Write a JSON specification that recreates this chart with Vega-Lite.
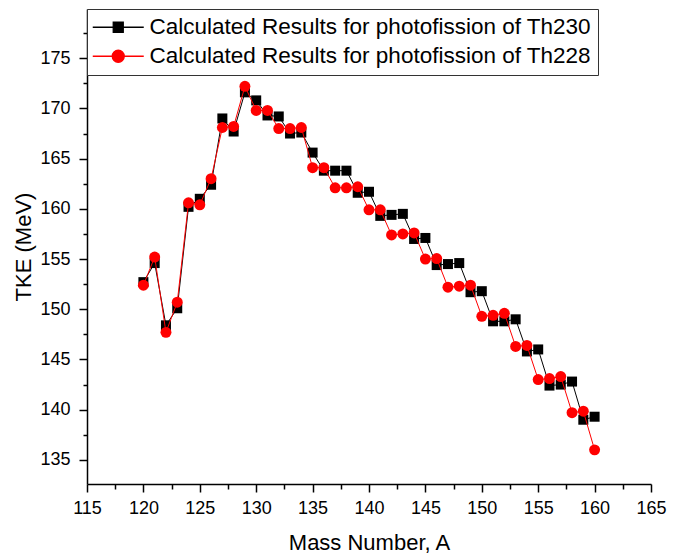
{
  "$schema": "https://vega.github.io/schema/vega-lite/v6.json",
  "autosize": {"type": "none"},
  "padding": {"left": 87, "top": 9, "right": 33, "bottom": 70},
  "width": 564,
  "height": 475,
  "background": "white",
  "config": {
    "view": {"stroke": null},
    "font": "Liberation Sans",
    "axis": {"grid": false, "domainColor": "black", "domainWidth": 1.5, "tickColor": "black", "tickWidth": 1.5, "labelColor": "black", "titleColor": "black", "labelFont": "Liberation Sans", "titleFont": "Liberation Sans", "titleFontWeight": "normal", "labelFontSize": 18, "titleFontSize": 22, "labelOverlap": false, "labelFlush": false}
  },
  "data": {"values": [
    {"A":120,"TKE":152.7,"s":"Th230"},{"A":121,"TKE":154.6,"s":"Th230"},{"A":122,"TKE":148.4,"s":"Th230"},{"A":123,"TKE":150.1,"s":"Th230"},{"A":124,"TKE":160.2,"s":"Th230"},{"A":125,"TKE":161.0,"s":"Th230"},{"A":126,"TKE":162.4,"s":"Th230"},{"A":127,"TKE":169.0,"s":"Th230"},{"A":128,"TKE":167.7,"s":"Th230"},{"A":129,"TKE":171.6,"s":"Th230"},{"A":130,"TKE":170.8,"s":"Th230"},{"A":131,"TKE":169.3,"s":"Th230"},{"A":132,"TKE":169.2,"s":"Th230"},{"A":133,"TKE":167.5,"s":"Th230"},{"A":134,"TKE":167.6,"s":"Th230"},{"A":135,"TKE":165.6,"s":"Th230"},{"A":136,"TKE":163.8,"s":"Th230"},{"A":137,"TKE":163.8,"s":"Th230"},{"A":138,"TKE":163.8,"s":"Th230"},{"A":139,"TKE":161.6,"s":"Th230"},{"A":140,"TKE":161.7,"s":"Th230"},{"A":141,"TKE":159.3,"s":"Th230"},{"A":142,"TKE":159.4,"s":"Th230"},{"A":143,"TKE":159.5,"s":"Th230"},{"A":144,"TKE":157.0,"s":"Th230"},{"A":145,"TKE":157.1,"s":"Th230"},{"A":146,"TKE":154.4,"s":"Th230"},{"A":147,"TKE":154.5,"s":"Th230"},{"A":148,"TKE":154.6,"s":"Th230"},{"A":149,"TKE":151.7,"s":"Th230"},{"A":150,"TKE":151.8,"s":"Th230"},{"A":151,"TKE":148.8,"s":"Th230"},{"A":152,"TKE":148.8,"s":"Th230"},{"A":153,"TKE":149.0,"s":"Th230"},{"A":154,"TKE":145.8,"s":"Th230"},{"A":155,"TKE":146.0,"s":"Th230"},{"A":156,"TKE":142.4,"s":"Th230"},{"A":157,"TKE":142.5,"s":"Th230"},{"A":158,"TKE":142.8,"s":"Th230"},{"A":159,"TKE":139.0,"s":"Th230"},{"A":160,"TKE":139.3,"s":"Th230"},
    {"A":120,"TKE":152.4,"s":"Th228"},{"A":121,"TKE":155.2,"s":"Th228"},{"A":122,"TKE":147.7,"s":"Th228"},{"A":123,"TKE":150.7,"s":"Th228"},{"A":124,"TKE":160.6,"s":"Th228"},{"A":125,"TKE":160.4,"s":"Th228"},{"A":126,"TKE":163.0,"s":"Th228"},{"A":127,"TKE":168.1,"s":"Th228"},{"A":128,"TKE":168.2,"s":"Th228"},{"A":129,"TKE":172.2,"s":"Th228"},{"A":130,"TKE":169.8,"s":"Th228"},{"A":131,"TKE":169.8,"s":"Th228"},{"A":132,"TKE":168.0,"s":"Th228"},{"A":133,"TKE":168.0,"s":"Th228"},{"A":134,"TKE":168.1,"s":"Th228"},{"A":135,"TKE":164.1,"s":"Th228"},{"A":136,"TKE":164.1,"s":"Th228"},{"A":137,"TKE":162.1,"s":"Th228"},{"A":138,"TKE":162.1,"s":"Th228"},{"A":139,"TKE":162.2,"s":"Th228"},{"A":140,"TKE":159.9,"s":"Th228"},{"A":141,"TKE":159.9,"s":"Th228"},{"A":142,"TKE":157.4,"s":"Th228"},{"A":143,"TKE":157.5,"s":"Th228"},{"A":144,"TKE":157.6,"s":"Th228"},{"A":145,"TKE":155.0,"s":"Th228"},{"A":146,"TKE":155.05,"s":"Th228"},{"A":147,"TKE":152.2,"s":"Th228"},{"A":148,"TKE":152.3,"s":"Th228"},{"A":149,"TKE":152.4,"s":"Th228"},{"A":150,"TKE":149.3,"s":"Th228"},{"A":151,"TKE":149.4,"s":"Th228"},{"A":152,"TKE":149.6,"s":"Th228"},{"A":153,"TKE":146.3,"s":"Th228"},{"A":154,"TKE":146.4,"s":"Th228"},{"A":155,"TKE":143.0,"s":"Th228"},{"A":156,"TKE":143.1,"s":"Th228"},{"A":157,"TKE":143.3,"s":"Th228"},{"A":158,"TKE":139.7,"s":"Th228"},{"A":159,"TKE":139.85,"s":"Th228"},{"A":160,"TKE":136.0,"s":"Th228"}
  ]},
  "encoding": {
    "x": {"field": "A", "type": "quantitative", "title": "Mass Number, A",
      "scale": {"domain": [115, 165], "nice": false, "zero": false},
      "axis": {"values": [115,117.5,120,122.5,125,127.5,130,132.5,135,137.5,140,142.5,145,147.5,150,152.5,155,157.5,160,162.5,165],
        "labelExpr": "datum.value % 5 === 0 ? datum.label : ''",
        "tickSize": {"condition": {"test": "datum.value % 5 === 0", "value": 8}, "value": 5},
        "labelPadding": 7, "titlePadding": 15}},
    "y": {"field": "TKE", "type": "quantitative", "title": "TKE (MeV)",
      "scale": {"domain": [132.6, 179.9], "nice": false, "zero": false},
      "axis": {"values": [135,137.5,140,142.5,145,147.5,150,152.5,155,157.5,160,162.5,165,167.5,170,172.5,175,177.5],
        "labelExpr": "datum.value % 5 === 0 ? datum.label : ''",
        "tickSize": {"condition": {"test": "datum.value % 5 === 0", "value": 8}, "value": 4},
        "labelPadding": 9, "titlePadding": 4}},
    "color": {"field": "s", "type": "nominal",
      "scale": {"domain": ["Th230", "Th228"], "range": ["#000000", "#ff0000"]},
      "legend": {"title": null, "orient": "none", "legendX": 0, "legendY": 0,
        "labelExpr": "'Calculated Results for photofission of ' + datum.label",
        "labelFont": "Liberation Sans", "labelFontSize": 22.5, "labelColor": "black", "labelLimit": 0,
        "padding": 7, "rowPadding": 6, "symbolOffset": 13, "labelOffset": 20,
        "strokeColor": "#333333", "fillColor": "white",
        "encode": {"symbols": {"update": {
          "shape": {"signal": "datum.value === 'Th230' ? 'M-2.55,0H2.55M-0.5,-0.5H0.5V0.5H-0.5Z' : 'M-2.55,0H2.55M0.6,0A0.6,0.6,0,1,1,-0.6,0A0.6,0.6,0,1,1,0.6,0Z'"},
          "size": {"value": 400},
          "stroke": {"scale": "color", "field": "value"},
          "strokeWidth": {"value": 1.3},
          "fill": {"scale": "color", "field": "value"},
          "opacity": {"value": 1}
        }}}}
    }
  },
  "layer": [
    {"transform": [{"filter": "datum.s === 'Th230'"}], "mark": {"type": "line", "strokeWidth": 1}},
    {"transform": [{"filter": "datum.s === 'Th230'"}], "mark": {"type": "point", "shape": "square", "filled": true, "opacity": 1, "size": 100, "strokeWidth": 0}},
    {"transform": [{"filter": "datum.s === 'Th228'"}], "mark": {"type": "line", "strokeWidth": 1}},
    {"transform": [{"filter": "datum.s === 'Th228'"}], "mark": {"type": "point", "shape": "circle", "filled": true, "opacity": 1, "size": 120, "strokeWidth": 0}}
  ]
}
